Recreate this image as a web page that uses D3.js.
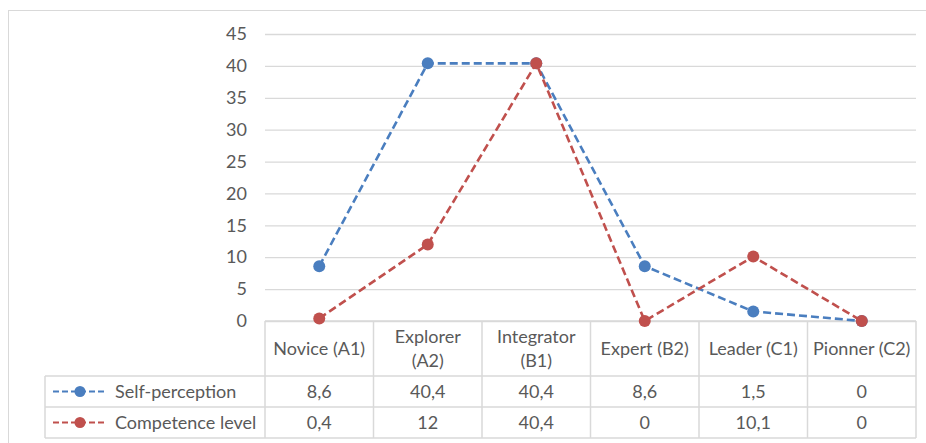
<!DOCTYPE html>
<html>
<head>
<meta charset="utf-8">
<script src="https://cdn.jsdelivr.net/npm/d3@7"></script>
<style>
  html, body { margin: 0; padding: 0; background: #fff; }
  svg { display: block; }
  text { font-family: Lato, "Open Sans", sans-serif; fill: #595959; }
</style>
</head>
<body>
<script>
// ---- data ----
const categories = ["Novice (A1)", "Explorer (A2)", "Integrator (B1)", "Expert (B2)", "Leader (C1)", "Pionner (C2)"];
const seriesNames = ["Self-perception", "Competence level"];
const selfPerception = [8.6, 40.4, 40.4, 8.6, 1.5, 0];
const competenceLevel = [0.4, 12, 40.4, 0, 10.1, 0];
const yTicks = [0, 5, 10, 15, 20, 25, 30, 35, 40, 45];
const seriesColors = ["#4A7EBF", "#C0504D"];

// ---- layout ----
const W = 926, H = 443;
const plotLeft = 265, plotRight = 916, plotTop = 34, plotBottom = 321;
const legendLeft = 45;
const headerBottom = 376, row1Bottom = 407, row2Bottom = 438;
const fontSize = 18;

const svg = d3.select("body").append("svg").attr("width", W).attr("height", H);

// outer chart border
svg.append("rect").attr("x", 8.5).attr("y", 10.5).attr("width", W + 20).attr("height", H + 20)
  .attr("fill", "#fff").attr("stroke", "#d9d9d9").attr("stroke-width", 1);

const x = d3.scaleBand().domain(categories).range([plotLeft, plotRight]).padding(0);
const y = d3.scaleLinear().domain([0, 45]).range([plotBottom, plotTop]);

// gridlines + y labels via axis
const yAxis = d3.axisLeft(y).tickValues(yTicks).tickSize(-(plotRight - plotLeft)).tickPadding(18).tickFormat(d3.format("d"));
const gy = svg.append("g").attr("transform", `translate(${plotLeft},0)`).call(yAxis);
gy.select(".domain").remove();
gy.selectAll(".tick line").attr("stroke", "#d9d9d9").attr("stroke-width", 1.3);
gy.selectAll(".tick text").attr("font-size", fontSize).attr("fill", "#595959")
  .style("font-family", "Lato, sans-serif");

// ---- data table ----
const tableG = svg.append("g");
const gridColor = "#d9d9d9";
const colEdges = categories.map(c => x(c)).concat([plotRight]);
[[plotLeft, plotBottom], [legendLeft, headerBottom], [legendLeft, row1Bottom], [legendLeft, row2Bottom]].forEach(([x0, yy]) => {
  tableG.append("line").attr("x1", x0).attr("x2", plotRight).attr("y1", yy).attr("y2", yy)
    .attr("stroke", gridColor).attr("stroke-width", 1.5);
});
colEdges.forEach(xx => {
  tableG.append("line").attr("x1", xx).attr("x2", xx).attr("y1", plotBottom).attr("y2", row2Bottom)
    .attr("stroke", gridColor).attr("stroke-width", 1.5);
});
tableG.append("line").attr("x1", legendLeft).attr("x2", legendLeft).attr("y1", headerBottom).attr("y2", row2Bottom)
  .attr("stroke", gridColor).attr("stroke-width", 1.5);

// header labels (long labels wrap onto two lines)
categories.forEach(c => {
  const cx = x(c) + x.bandwidth() / 2;
  const t = tableG.append("text").attr("x", cx).attr("text-anchor", "middle").attr("font-size", fontSize);
  const cy = (plotBottom + headerBottom) / 2;
  if (c.length > 12) {
    const i = c.lastIndexOf(" ");
    t.append("tspan").attr("x", cx).attr("y", cy - 12 + 6).text(c.slice(0, i));
    t.append("tspan").attr("x", cx).attr("y", cy + 12 + 6).text(c.slice(i + 1));
  } else {
    t.attr("y", cy + 6).text(c);
  }
});

const locale = d3.formatLocale({ decimal: ",", thousands: ".", grouping: [3], currency: ["", "€"] });
const fmt = v => locale.format("~g")(v);

const seriesData = [selfPerception, competenceLevel];
const rowCenters = [(headerBottom + row1Bottom) / 2, (row1Bottom + row2Bottom) / 2];

seriesData.forEach((vals, si) => {
  const cy = rowCenters[si];
  vals.forEach((v, i) => {
    tableG.append("text").attr("x", x(categories[i]) + x.bandwidth() / 2).attr("y", cy + 6)
      .attr("text-anchor", "middle").attr("font-size", fontSize).text(fmt(v));
  });
  const col = seriesColors[si];
  tableG.append("line").attr("x1", 53).attr("x2", 107).attr("y1", cy).attr("y2", cy)
    .attr("stroke", col).attr("stroke-width", 2.2).attr("stroke-dasharray", "6,3");
  tableG.append("circle").attr("cx", 80).attr("cy", cy).attr("r", 5.5).attr("fill", col);
  tableG.append("text").attr("x", 115).attr("y", cy + 6).attr("font-size", fontSize).text(seriesNames[si]);
});

// ---- lines ----
const line = d3.line().x((d, i) => x(categories[i]) + x.bandwidth() / 2).y(d => y(d));
seriesData.forEach((vals, si) => {
  const col = seriesColors[si];
  const g = svg.append("g");
  g.append("path").datum(vals).attr("d", line).attr("fill", "none").attr("stroke", col)
    .attr("stroke-width", 2.6).attr("stroke-dasharray", "8,4");
  g.selectAll("circle").data(vals).join("circle")
    .attr("cx", (d, i) => x(categories[i]) + x.bandwidth() / 2).attr("cy", d => y(d))
    .attr("r", 6).attr("fill", col);
});
</script>
</body>
</html>
